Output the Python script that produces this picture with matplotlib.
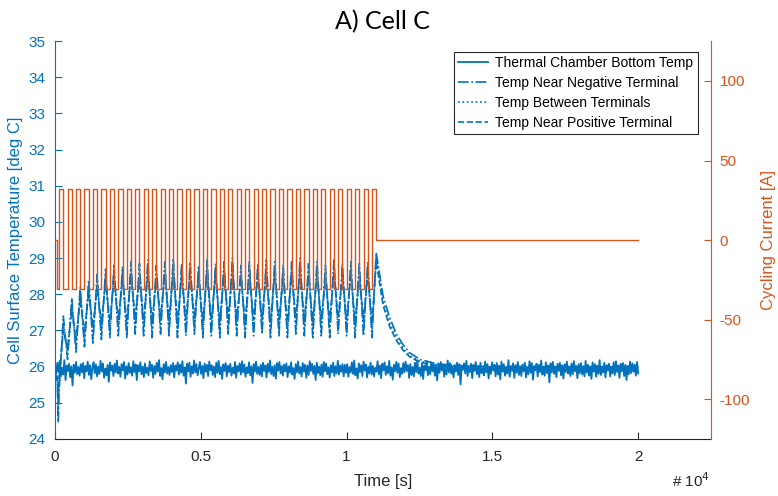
import numpy as np
import matplotlib.pyplot as plt

plt.rcParams['font.family'] = ['Liberation Sans', 'DejaVu Sans']
plt.rcParams['axes.unicode_minus'] = False

# cycling protocol [s]
rest_end = 80
first_cycle = 140
cycle_period = 290
high_time = 145
n_cycles = 38
end_time = 20000
i_charge = 32
i_discharge = -31

# chamber temperature: base + read deviations (1/100 deg C), evenly spaced 0..2e4 s
chamber_base = 25.93
chamber_dev = [
    5, -12, 18, -8, 22, -20, 3, -15, 25, -30, 10, -5, 15, -22, 8, -45, 12, -10, 20, -14, 6, -18, 14, -9, 17,
    -25, 9, -6, 21, -16, 11, -28, 4, 19, -11, 13, -20, 7, -13, 23, -7, 16, -24, 2, -17, 12, -35, 18, -4, 10,
    -19, 15, -9, 24, -12, 6, -21, 14, -3, 20, -26, 8, -15, 17, -10, 5, -18, 22, -8, 13, -30, 11, -6, 19, -14,
    7, -22, 16, -11, 4, -17, 21, -5, 12, -24, 9, -13, 18, -7, 25, -19, 3, -28, 14, -9, 20, -12, 6, -16, 11,
    -8, 17, -23, 10, -4, 19, -15, 13, -10, 22, -18, 5, -40, 15, -6, 18, -21, 8, -12, 24, -9, 14, -17, 3, 20,
    -13, 9, -25, 16, -7, 12, -19, 21, -3, 11, -16, 7, -22, 18, -10, 23, -14, 6, -27, 13, -5, 17, -20, 10, -8,
    15, -18, 4, -12, 20, -24, 9, -6, 16, -15, 22, -9, 13, -21, 5, -11, 19, -17, 8, -38, 14, -7, 21, -13, 6,
    -16, 12, -20, 18, -5, 10, -23, 15, -8, 24, -14, 7, -19, 11, -26, 17, -4, 20, -12, 9, -18, 13, -6, 16, -22,
    8, -10, 19, -15, 3, -27, 14, -9, 21, -12, 6, -20, 17, -7, 12, -24, 10, -16, 22, -5, 15, -13, 9, -30, 18,
    -11, 7, -17, 13, -21, 20, -6, 16, -14, 5, -23, 11, -9, 18, -19, 8, -12, 23, -15, 10, -7, 14, -20, 12, -10,
    14, -21, 6, -9, 19, -13, 24, -17, 2, -26, 16, -8, 11, -19, 21, -4, 13, -23, 7, -12, 18, -15, 9, -20, 4,
    -7, 22, -14, 10, -25, 15, -3, 19, -16, 8, -11, 23, -18, 5, -29, 12, -6, 20, -10, 16, -22, 3, -13, 17, -9,
    21, -5, 11, -24, 14, -16, 6, -20, 18, -8, 25, -12, 4, -19, 15, -27, 10, -3, 22, -17, 7, -14, 19, -6, 12,
    -18, 9, -31, 16, -10, 20, -4, 13, -21, 8, -15, 24, -9, 17, -13, 5, -23, 11, -7, 18, -16, 14, -42, 10, -2,
    16, -12, 23, -19, 6, -8, 15, -25, 12, -5, 20, -14, 9, -22, 18, -11, 3, -17, 21, -9, 14, -26, 7, -13, 19,
    -4, 12, -20, 17, -15, 10, -28, 21, -7, 14, -18, 6, -12, 25, -21, 9, -5, 16, -24, 11, -10, 20, -16, 8, -19,
    13, -6, 18, -23, 5, -14, 22, -10, 17, -29, 8, -3, 15, -20, 12, -8, 24, -15, 6, -18, 19, -11, 10, -36, 16,
    -9, 20, -13, 7, -22, 15, -5, 18, -17, 11, -26, 13, -8, 21, -12, 4, -19, 16, -14, 22, -6, 9, -25, 14, -11,
    17, -15, 8, -20, 23, -10, 12, -18, 6, -27, 19, -7, 14, -21, 10, -13, 25, -16, 5, -9, 18, -23, 11, -4, 15,
    -20, 6, -12, 19, -16, 22, -8, 10, -24, 15, -6, 17, -19, 12, -30, 9, -14, 21, -11, 16, -7, 13, -18, 20, -12,
]

# cell temps before cycling (t = 0, 80, 110 s)
start_t = [0, 80, 110]
start_neg = [25.9, 25.5, 24.45]
start_mid = [25.95, 25.6, 24.8]
start_pos = [26.0, 25.7, 25.1]

# trough at start of each charge pulse, peak at its end
trough_neg = [25.3, 26.2, 26.4, 26.55, 26.65, 26.75, 26.8, 26.85, 26.8, 26.9, 26.85, 26.8, 26.9, 26.85,
              26.8, 26.85, 26.9, 26.8, 26.85, 26.8, 26.9, 26.85, 26.8, 26.85, 26.9, 26.8, 26.85, 26.8,
              26.9, 26.85, 26.8, 26.85, 26.8, 26.9, 26.85, 26.8, 26.85, 26.8]
peak_neg = [27.4, 27.9, 28.2, 28.4, 28.55, 28.7, 28.8, 28.75, 28.9, 28.85, 28.95, 28.8, 28.9, 29.0,
            28.85, 28.9, 28.8, 28.95, 28.85, 28.9, 29.0, 28.8, 28.9, 28.85, 28.95, 28.9, 28.8, 28.9,
            29.0, 28.85, 28.9, 28.8, 28.95, 28.85, 28.9, 28.85, 28.9, 29.15]
trough_mid = [25.5, 26.35, 26.55, 26.7, 26.8, 26.9, 26.95, 27.0, 26.95, 27.05, 27.0, 26.95, 27.05, 27.0,
              26.95, 27.0, 27.05, 26.95, 27.0, 26.95, 27.05, 27.0, 26.95, 27.0, 27.05, 26.95, 27.0, 26.95,
              27.05, 27.0, 26.95, 27.0, 26.95, 27.05, 27.0, 26.95, 27.0, 26.95]
peak_mid = [27.2, 27.75, 28.05, 28.25, 28.4, 28.55, 28.65, 28.6, 28.75, 28.7, 28.8, 28.65, 28.75, 28.85,
            28.7, 28.75, 28.65, 28.8, 28.7, 28.75, 28.85, 28.65, 28.75, 28.7, 28.8, 28.75, 28.65, 28.75,
            28.85, 28.7, 28.75, 28.65, 28.8, 28.7, 28.75, 28.7, 28.75, 29.05]
trough_pos = [25.7, 26.5, 26.75, 26.95, 27.1, 27.2, 27.25, 27.3, 27.25, 27.35, 27.3, 27.25, 27.35, 27.3,
              27.25, 27.3, 27.35, 27.25, 27.3, 27.25, 27.35, 27.3, 27.25, 27.3, 27.35, 27.25, 27.3, 27.25,
              27.35, 27.3, 27.25, 27.3, 27.25, 27.35, 27.3, 27.25, 27.3, 27.2]
peak_pos = [27.0, 27.55, 27.85, 28.05, 28.2, 28.35, 28.45, 28.4, 28.55, 28.5, 28.6, 28.45, 28.55, 28.65,
            28.5, 28.55, 28.45, 28.6, 28.5, 28.55, 28.65, 28.45, 28.55, 28.5, 28.6, 28.55, 28.45, 28.55,
            28.65, 28.5, 28.55, 28.45, 28.6, 28.5, 28.55, 28.5, 28.55, 28.9]

# cool-down after cycling
decay_t = [11250, 11480, 11710, 11940, 12170, 12510, 13080, 13900, 15000, 20000]
decay_neg = [27.95, 27.35, 26.9, 26.6, 26.38, 26.2, 26.08, 26.02, 26.0, 26.0]
decay_mid = [27.8, 27.2, 26.8, 26.5, 26.3, 26.15, 26.05, 26.0, 25.98, 25.98]
decay_pos = [27.7, 27.1, 26.72, 26.45, 26.27, 26.12, 26.03, 25.99, 25.98, 25.98]

blue = '#0072BD'
orange = '#D95319'
dark = '#262626'

# time axes
cycle_starts = first_cycle + cycle_period * np.arange(n_cycles)
t_chamber = np.linspace(0, end_time, len(chamber_dev))
y_chamber = chamber_base + np.array(chamber_dev) / 100.0

t_cyc = np.column_stack([cycle_starts, cycle_starts + high_time]).ravel()
t_cell = np.concatenate([start_t, t_cyc, decay_t])


def cell_series(start, trough, peak, decay):
    return np.concatenate([start, np.column_stack([trough, peak]).ravel(), decay])


y_neg = cell_series(start_neg, trough_neg, peak_neg, decay_neg)
y_mid = cell_series(start_mid, trough_mid, peak_mid, decay_mid)
y_pos = cell_series(start_pos, trough_pos, peak_pos, decay_pos)

# current steps
edges = [0, rest_end]
levels = [0, i_discharge]
for s in cycle_starts:
    edges += [s, s + high_time]
    levels += [i_charge, i_discharge]
levels[-1] = 0
edges.append(end_time)
levels.append(0)

fig = plt.figure(figsize=(7.78, 4.96), dpi=100)
ax1 = fig.add_axes([0.0707, 0.115, 0.8433, 0.802])
ax2 = ax1.twinx()

l1, = ax1.plot(t_chamber, y_chamber, '-', color=blue, lw=1.3)
l2, = ax1.plot(t_cell, y_neg, '-.', color=blue, lw=1.2)
l3, = ax1.plot(t_cell, y_mid, ':', color=blue, lw=1.2)
l4, = ax1.plot(t_cell, y_pos, '--', color=blue, lw=1.2)

ax2.plot(edges, levels, drawstyle='steps-post', color=orange, lw=1.0)

ax1.set_xlim(0, 22500)
ax1.set_ylim(24, 35)
ax2.set_ylim(-125, 125)
ax1.set_xticks([0, 5000, 10000, 15000, 20000])
ax1.set_xticklabels(['0', '0.5', '1', '1.5', '2'])
ax1.set_yticks(np.arange(24, 36, 1))
ax2.set_yticks([-100, -50, 0, 50, 100])

ax1.tick_params(axis='y', colors=blue, direction='in', length=5, labelsize=11, pad=7)
ax1.tick_params(axis='x', colors=dark, direction='in', length=5, labelsize=11, pad=8)
ax2.tick_params(axis='y', colors=orange, direction='in', length=5, labelsize=11, pad=6)

for ax in (ax1, ax2):
    ax.spines['top'].set_visible(False)
ax1.spines['left'].set_color(blue)
ax1.spines['bottom'].set_color(dark)
ax2.spines['right'].set_color(orange)
ax2.spines['left'].set_visible(False)
ax2.spines['bottom'].set_visible(False)
ax1.spines['right'].set_visible(False)

ax1.set_xlabel('Time [s]', fontsize=12, color=dark, labelpad=7)
ax1.set_ylabel('Cell Surface Temperature [deg C]', fontsize=12, color=blue, labelpad=4)
ax2.set_ylabel('Cycling Current [A]', fontsize=12, color=orange, labelpad=8)
fig.text(0.864, 0.018, '# 10$^{4}$', fontsize=11, color=dark)
fig.suptitle('A) Cell C', x=0.492, y=0.98, fontsize=18, family='Lato')

leg = ax2.legend([l1, l2, l3, l4],
                 ['Thermal Chamber Bottom Temp', 'Temp Near Negative Terminal',
                  'Temp Between Terminals', 'Temp Near Positive Terminal'],
                 loc='upper right', bbox_to_anchor=(0.99, 0.99), fontsize=10,
                 fancybox=False, framealpha=1, edgecolor=dark,
                 handlelength=2.2, handletextpad=0.5, borderpad=0.3, labelspacing=0.42)
leg.get_frame().set_linewidth(0.8)

fig.savefig('out.png', dpi=100)
